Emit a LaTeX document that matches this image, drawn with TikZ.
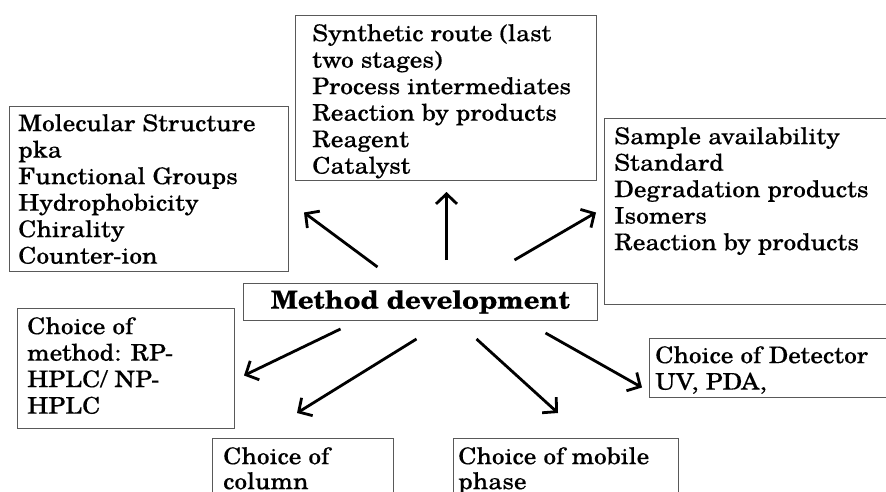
\documentclass[tikz,border=0pt]{standalone}
\usepackage{fontspec}
\setmainfont{TeX Gyre Schola}[FakeStretch=1.1, FakeBold=0.25]
\usetikzlibrary{arrows.meta, scopes}
\tikzset{
  >= {Straight Barb[length=10pt, width=21pt]},
  bx/.style={rectangle, draw=black!65, line width=1pt, anchor=north west, inner sep=0pt},
  tx/.style={anchor=north west, inner sep=0pt, align=left, font=\fontsize{23}{26.5}\selectfont}
}

\begin{document}
\begin{tikzpicture}[x=1pt, y=-1pt, line/.style={draw, line width=2.8pt}]
  \clip (0,0) rectangle (886,492);
  % boxes
  \node[bx, minimum width=279pt, minimum height=165pt] (mol) at (9,106) {};
  \node[bx, minimum width=301pt, minimum height=165pt] (syn) at (295,15) {};
  \node[bx, minimum width=290pt, minimum height=186pt] (smp) at (604,118) {};
  \node[bx, minimum width=354pt, minimum height=37pt,
        font=\bfseries\fontsize{25}{28}\selectfont] (md) at (243,283) {Method development};
  \node[bx, minimum width=217pt, minimum height=120pt] (cm) at (17,308) {};
  \node[bx, minimum width=245pt, minimum height=59pt] (det) at (649,338) {};
  \node[bx, minimum width=181pt, minimum height=80pt] (col) at (212,438) {};
  \node[bx, minimum width=225pt, minimum height=80pt] (mob) at (453,438) {};
  % texts
  \node[tx] (molt) at ([xshift=9pt, yshift=-8pt]mol.north west)
    {Molecular Structure\\pka\\Functional Groups\\Hydrophobicity\\Chirality\\Counter-ion};
  \node[tx] (synt) at ([xshift=17pt, yshift=-9pt]syn.north west)
    {Synthetic route (last\\two stages)\\Process intermediates\\Reaction by products\\Reagent\\Catalyst};
  \node[tx] (smpt) at ([xshift=10pt, yshift=-9pt]smp.north west)
    {Sample availability\\Standard\\Degradation products\\Isomers\\Reaction by products};
  \node[tx] (cmt) at ([xshift=10pt, yshift=-9pt]cm.north west)
    {Choice of\\method: RP-\\HPLC/ NP-\\HPLC};
  \node[tx] (dett) at ([xshift=6pt, yshift=-8pt]det.north west)
    {Choice of Detector\\UV, PDA,};
  \node[tx, font=\fontsize{23}{25}\selectfont] (colt) at ([xshift=11pt, yshift=-9pt]col.north west)
    {Choice of\\column};
  \node[tx, font=\fontsize{23}{25}\selectfont] (mobt) at ([xshift=5pt, yshift=-9pt]mob.north west)
    {Choice of mobile\\phase};
  % arrows
  {[->, line]
  \draw ([xshift=-43pt, yshift=16pt]md.north) -- ([xshift=15pt, yshift=-23.5pt]mol.east);
  \draw ([xshift=26pt, yshift=23pt]md.north) -- ([xshift=0.5pt, yshift=-11pt]syn.south);
  \draw ([xshift=94pt, yshift=23pt]md.north) -- ([xshift=-8pt, yshift=-1pt]smp.west);
  \draw ([xshift=-80pt, yshift=-8pt]md.south) -- ([xshift=9pt, yshift=-7pt]cm.east);
  \draw ([xshift=-4pt, yshift=-18pt]md.south) -- ([xshift=85pt, yshift=25pt]col.north west);
  \draw ([xshift=56pt, yshift=-18pt]md.south) -- ([xshift=105pt, yshift=25pt]mob.north west);
  \draw ([xshift=125pt, yshift=-12pt]md.south) -- ([xshift=-7pt, yshift=-19.5pt]det.west);
  }
\end{tikzpicture}
\end{document}
